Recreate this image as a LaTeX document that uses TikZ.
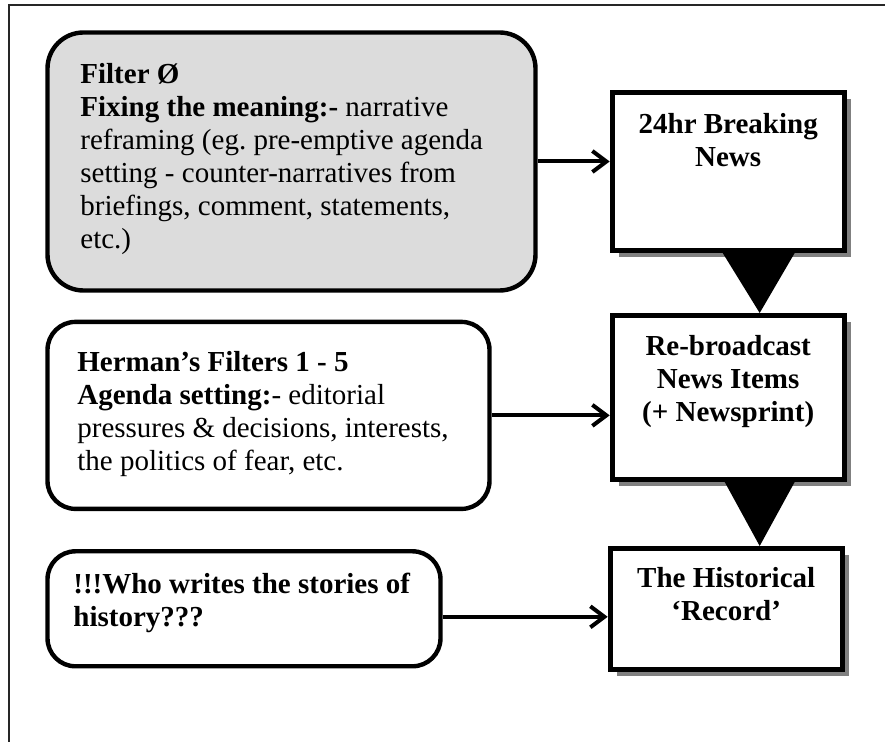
\documentclass[tikz,border=0pt]{standalone}
\usepackage{fontspec}
\setmainfont{Liberation Serif}
\usepackage{tikz}
\usetikzlibrary{positioning, shadows, arrows.meta}
\definecolor{filtgray}{RGB}{220,220,220}
\definecolor{shadegray}{RGB}{128,128,128}
\newcommand{\boxsize}{\fontsize{14.5}{16.5}\selectfont}
\tikzset{
	pageframe/.style ={line width=0.75pt, draw=black!85},
	inbox/.append style={
		draw,
		line width=2.2pt,
		rounded corners=14pt,
	},
	inlbl/.append style={
		align=left,
		inner sep=0pt,
		font=\boxsize
	},
	outbox/.append style={
		draw,
		fill=white,
		line width=2.5pt,
		minimum width=116pt,
		drop shadow={shadow xshift=3.5pt, shadow yshift=-3.5pt, fill=shadegray, opacity=1},
	},
	outlbl/.append style={
		align=center,
		inner sep=0pt,
		font={\boxsize\bfseries}
	},
	link/.style={
		line width=2pt,
		-{Straight Barb[length=7pt, width=10.5pt]}
	},
	pointer/.style={fill=black}
}

\begin{document}
\begin{tikzpicture}[x=0.5pt, y=-0.5pt]
		\useasboundingbox (0,0) rectangle (885,742);
		\draw[pageframe] (9,780) -- (9,5) -- (920,5);
		
		\node(filt)[inbox, fill=filtgray, rounded corners=18pt, minimum width=244pt, minimum height=129pt] at (291.5,161.5) {};
		\node(herman)[inbox, minimum width=221pt, minimum height=93.5pt, below=13.5pt of filt.south west, anchor=north west]{};
		\node(who)[inbox, minimum width=196.5pt, minimum height=57.5pt, below=19pt of herman.south west, anchor=north west]{};
		
		\node(filtlbl)[inlbl, right=17.35pt of filt.west, yshift=1pt]
			{\textbf{Filter Ø}\\ \textbf{Fixing the meaning:-} narrative\\ reframing (eg.\ pre-emptive agenda\\ setting - counter-narratives from\\ briefings, comment, statements,\\ etc.)};
		\node(hermanlbl)[inlbl, right=15.85pt of herman.west, yshift=0.5pt]
			{\textbf{Herman’s Filters 1 - 5}\\ \textbf{Agenda setting:}- editorial\\ pressures \& decisions, interests,\\ the politics of fear, etc.};
		\node(wholbl)[inlbl, right=13.85pt of who.west, yshift=3pt]
			{\textbf{!!!Who writes the stories of}\\ \textbf{history???}};
		
		\node(news)[outbox, minimum height=79pt, right=36pt of filt, yshift=-5pt]{};
		\node(rebroad)[outbox, minimum height=82pt, below=30pt of news]{};
		\node(record)[outbox, minimum height=60.5pt, below=32pt of rebroad, xshift=-1pt]{};
		
		\node(newslbl)[outlbl, below=11.5pt of news.north]{24hr Breaking\\News};
		\node(rebroadlbl)[outlbl, below=11pt of rebroad.north]{Re-broadcast\\News Items\\(+ Newsprint)};
		\node(recordlbl)[outlbl, below=10.5pt of record.north]{The Historical\\‘Record’};
		
		\fill[pointer] ([xshift=-2.75pt]news.south) -- ([xshift=33.25pt]news.south) -- ([xshift=15.75pt]rebroad.north) -- cycle;
		\fill[pointer] ([xshift=-1.75pt]rebroad.south) -- ([xshift=33.25pt]rebroad.south) -- ([xshift=15.75pt]rebroad.south |- record.north) -- cycle;
		
		\draw[link] (filt.east) -- (filt.east -| news.west);
		\draw[link] (herman.east) -- (herman.east -| rebroad.west);
		\draw[link] ([yshift=-4pt]who.east) -- ([yshift=-4pt]who.east -| record.west);
		
\end{tikzpicture}
\end{document}
